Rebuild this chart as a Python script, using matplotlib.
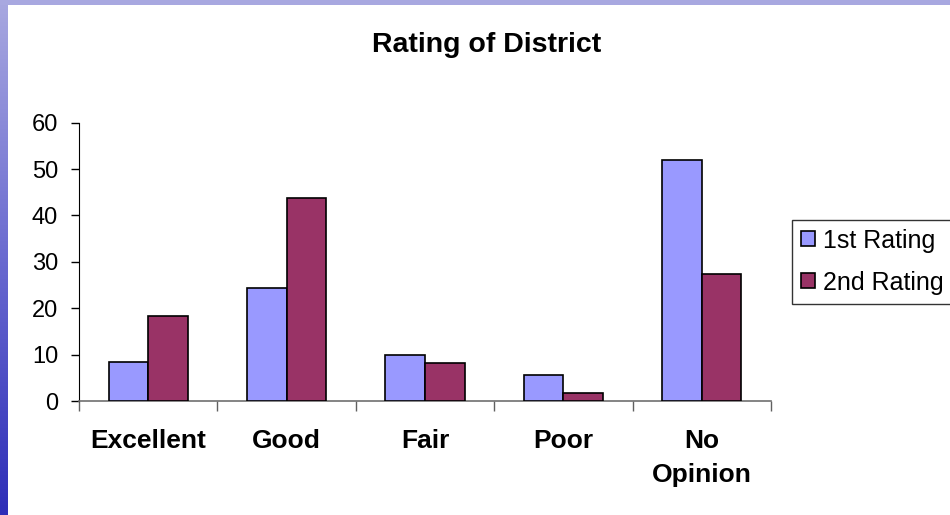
import numpy as np
import matplotlib
matplotlib.use('Agg')
import matplotlib.pyplot as plt
from matplotlib.patches import Rectangle

plt.rcParams['font.family'] = ['Liberation Sans', 'DejaVu Sans']

categorias = ['Excellent', 'Good', 'Fair', 'Poor', 'No\nOpinion']
primeira = [8.5, 24.4, 9.9, 5.5, 51.9]
segunda = [18.4, 43.7, 8.1, 1.7, 27.4]
series = ['1st Rating', '2nd Rating']
cores = ['#9999FF', '#993366']

fig = plt.figure(figsize=(9.5, 5.15), dpi=100)
fig.patch.set_facecolor('white')

# faixa decorativa do slide (topo e esquerda)
fig.patches.append(Rectangle((0, 1 - 5 / 515), 1, 5 / 515, transform=fig.transFigure,
                             facecolor='#A8A8E0', edgecolor='none', zorder=0))
ax_faixa = fig.add_axes([0, 0, 8 / 950, 1])
gradiente = np.linspace(0, 1, 256).reshape(-1, 1)
cmap_faixa = matplotlib.colors.LinearSegmentedColormap.from_list('faixa', ['#A8A8E0', '#6A6AD0', '#2E2EB8'])
ax_faixa.imshow(gradiente, aspect='auto', cmap=cmap_faixa, origin='upper')
ax_faixa.axis('off')

ax = fig.add_axes([79 / 950, 1 - 401 / 515, (771 - 79) / 950, (401 - 122.7) / 515])

x = np.arange(len(categorias))
largura = 1 / 3.5
ax.bar(x - largura / 2, primeira, largura, color=cores[0], edgecolor='black',
       linewidth=1.2, label=series[0], zorder=3)
ax.bar(x + largura / 2, segunda, largura, color=cores[1], edgecolor='black',
       linewidth=1.2, label=series[1], zorder=3)

ax.set_xlim(-0.5, len(categorias) - 0.5)
ax.set_ylim(0, 60)
ax.set_yticks(range(0, 61, 10))
ax.tick_params(axis='y', labelsize=17, length=6, width=1, pad=9, color='black')

ax.set_xticks(x)
ax.set_xticklabels(categorias, fontsize=19, fontweight='bold', linespacing=1.55)
ax.tick_params(axis='x', which='major', length=0, pad=20)
ax.set_xticks(np.arange(-0.5, len(categorias)), minor=True)
ax.tick_params(axis='x', which='minor', length=7, width=1, color='#606060')

for lado in ['top', 'right']:
    ax.spines[lado].set_visible(False)
ax.spines['left'].set_color('black')
ax.spines['bottom'].set_color('#707070')
ax.spines['bottom'].set_linewidth(1.2)

fig.text(487 / 950, 1 - 45 / 515, 'Rating of District', ha='center', va='center',
         fontsize=20.5, fontweight='bold')

leg = fig.legend(loc='upper left', bbox_to_anchor=(792 / 950, 1 - 220 / 515),
                 fontsize=18, frameon=True, fancybox=False, edgecolor='black',
                 handlelength=0.55, handleheight=0.55, handletextpad=0.35,
                 borderpad=0.35, labelspacing=0.72, borderaxespad=0)
leg.get_frame().set_linewidth(1.0)

plt.savefig('out.png', dpi=100)
